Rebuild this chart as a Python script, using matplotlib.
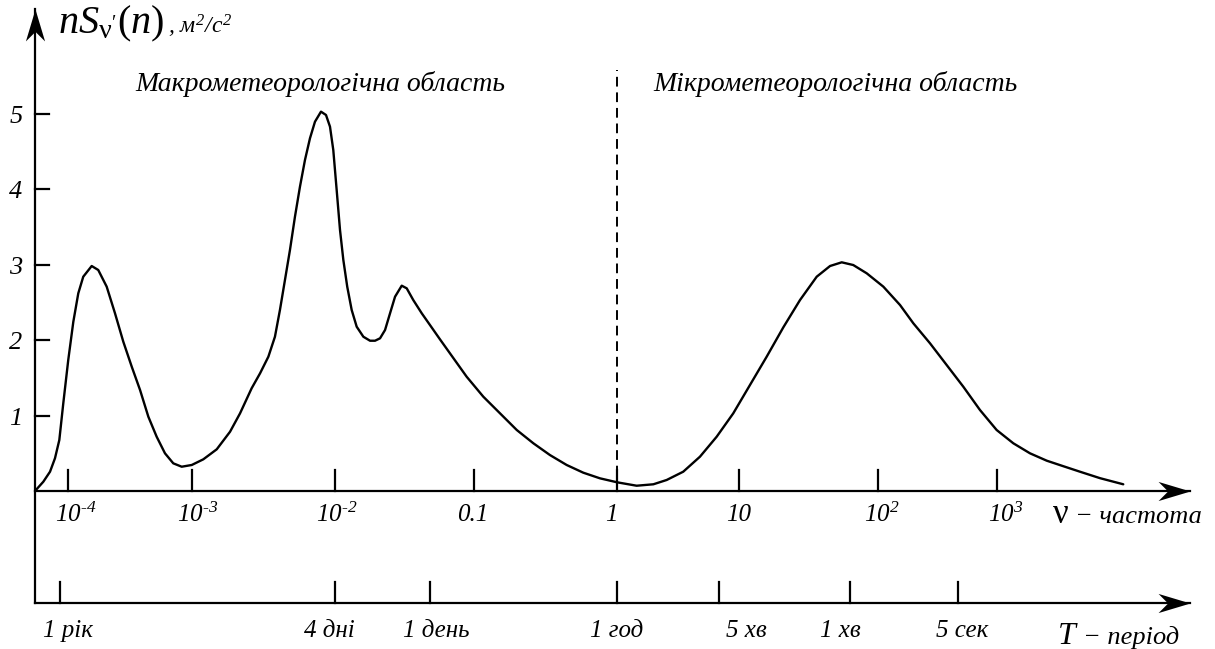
import numpy as np
import matplotlib
matplotlib.use("Agg")
import matplotlib.pyplot as plt
from matplotlib.markers import MarkerStyle
from matplotlib.path import Path
from matplotlib.transforms import Affine2D

plt.rcParams['font.family'] = ['Liberation Serif', 'DejaVu Serif']
plt.rcParams['mathtext.fontset'] = 'custom'
plt.rcParams['mathtext.rm'] = 'Liberation Serif:italic'
plt.rcParams['mathtext.it'] = 'Liberation Serif:italic'
plt.rcParams['mathtext.sf'] = 'Liberation Serif'

# wind speed spectrum, frequency in cycles per hour (log10)
log_freq = [-4.266, -4.199, -4.145, -4.105, -4.070, -4.038, -3.998, -3.957, -3.917, -3.877,
            -3.809, -3.756, -3.688, -3.621, -3.554, -3.486, -3.419, -3.352, -3.285, -3.218,
            -3.151, -3.083, -3.002, -2.921, -2.827, -2.734, -2.664, -2.583, -2.524, -2.466,
            -2.420, -2.385, -2.350, -2.315, -2.280, -2.245, -2.210, -2.175, -2.140, -2.098,
            -2.063, -2.035, -2.012, -1.988, -1.964, -1.940, -1.912, -1.880, -1.844, -1.796,
            -1.748, -1.712, -1.676, -1.640, -1.604, -1.568, -1.520, -1.484, -1.437, -1.376,
            -1.317, -1.245, -1.173, -1.053, -0.935, -0.818, -0.701, -0.585, -0.469, -0.352,
            -0.236, -0.119, 0.002, 0.161, 0.298, 0.407, 0.543, 0.680, 0.817, 0.953,
            1.079, 1.199, 1.319, 1.439, 1.559, 1.655, 1.739, 1.822, 1.919, 2.045,
            2.185, 2.297, 2.437, 2.577, 2.717, 2.857, 2.997, 3.137, 3.277, 3.418,
            3.555, 3.697, 3.866, 4.061]
spectrum = [0.000, 0.123, 0.256, 0.434, 0.676, 1.163, 1.737, 2.245, 2.622, 2.842,
            2.984, 2.931, 2.710, 2.357, 1.980, 1.649, 1.340, 0.985, 0.720, 0.500,
            0.367, 0.322, 0.345, 0.420, 0.553, 0.786, 1.030, 1.362, 1.561, 1.781,
            2.046, 2.401, 2.798, 3.196, 3.638, 4.036, 4.390, 4.678, 4.898, 5.031,
            4.987, 4.832, 4.523, 3.992, 3.462, 3.064, 2.710, 2.401, 2.179, 2.046,
            1.993, 1.993, 2.025, 2.135, 2.357, 2.577, 2.723, 2.688, 2.533, 2.357,
            2.202, 2.012, 1.826, 1.516, 1.251, 1.030, 0.809, 0.633, 0.477, 0.345,
            0.243, 0.168, 0.115, 0.070, 0.089, 0.146, 0.256, 0.455, 0.720, 1.030,
            1.406, 1.781, 2.171, 2.533, 2.842, 2.984, 3.033, 2.997, 2.887, 2.710,
            2.467, 2.224, 1.959, 1.671, 1.383, 1.074, 0.809, 0.633, 0.500, 0.402,
            0.330, 0.256, 0.170, 0.089]

freq_ticks = [-4, -3, -2, -1, 0, 1, 2, 3]
freq_labels = ['$10^{‐4}$', '$10^{‐3}$', '$10^{‐2}$', '0.1', '1', '10',
               '$10^{2}$', '$10^{3}$']
freq_label_at = [-3.94, -2.96, -1.99, -1.01, -0.04, 1.0, 2.03, 3.07]

period_ticks = [-4.065, -2.0, -1.32, 0.0, 0.836, 1.80, 2.67]
period_labels = ['1 рік', '4 дні', '1 день', '1 год', '5 хв', '1 хв', '5 сек']
period_label_at = [-4.0, -2.04, -1.27, 0.0, 1.05, 1.73, 2.71]

y_ticks = [1, 2, 3, 4, 5]

# the decades on the printed axis are not evenly spaced, so the x scale
# is piecewise linear in log10(f) between them
W, H = 1215, 649
decade_log = [-4, -3, -2, -1, 0, 1, 2, 3]
decade_pos = [68, 192, 335, 474, 617, 739, 878, 997]
knot_log = np.r_[-12, decade_log, 12]
knot_pos = np.r_[68 - 8 * 124, decade_pos, 997 + 9 * 119]


def fwd(f):
    lg = np.log10(np.clip(np.asarray(f, float), 1e-12, 1e12))
    return np.interp(lg, knot_log, knot_pos)


def inv(p):
    return 10 ** np.interp(p, knot_pos, knot_log)


Y0, UNIT = 491, 75.4   # zero line and one m2/s2, in pixels

fig = plt.figure(figsize=(W / 100, H / 100), dpi=100)
ax = fig.add_axes([0, 0, 1, 1])
ax.set_axis_off()
ax.set_xscale('function', functions=(fwd, inv))
ax.set_xlim(inv(0), inv(W))
ax.set_ylim((Y0 - H) / UNIT, Y0 / UNIT)

x0 = inv(35)
x_end = inv(1190)
y_period = -(603 - Y0) / UNIT
y_top = (Y0 - 9) / UNIT
tick_h = 21 / UNIT
lw = 1.6

# stealth arrow heads
head = Path([(0, 0), (-1, 0.3), (-0.7, 0), (-1, -0.3), (0, 0)],
            [Path.MOVETO, Path.LINETO, Path.LINETO, Path.LINETO, Path.CLOSEPOLY])
head_right = MarkerStyle(head)
head_up = MarkerStyle(head, transform=Affine2D().rotate_deg(90))

# axes
ax.plot([x0, x_end], [0, 0], color='k', lw=lw)
ax.plot([x0, x_end], [y_period, y_period], color='k', lw=lw)
ax.plot([x0, x0], [y_period, y_top], color='k', lw=lw)
ax.plot([x_end, x_end], [0, y_period], ls='none', marker=head_right, ms=46,
        color='k', mew=0)
ax.plot([x0], [y_top], ls='none', marker=head_up, ms=46, color='k', mew=0)

for t in freq_ticks:
    ax.plot([10.0 ** t] * 2, [0, tick_h], color='k', lw=lw)
for t in period_ticks:
    ax.plot([10.0 ** t] * 2, [y_period, y_period + tick_h], color='k', lw=lw)
for v in y_ticks:
    ax.plot([x0, inv(49)], [v, v], color='k', lw=lw)
    ax.text(inv(16), v - 0.04, str(v), ha='center', va='center',
            fontsize=19, style='italic')

for pos, lab in zip(freq_label_at, freq_labels):
    ax.text(10.0 ** pos, -(515 - Y0) / UNIT, lab, ha='center', va='center',
            fontsize=18, style='italic')
for pos, lab in zip(period_label_at, period_labels):
    ax.text(10.0 ** pos, -(631 - Y0) / UNIT, lab, ha='center', va='center',
            fontsize=18, style='italic')

# spectrum curve and the boundary between the two regions
ax.plot(10.0 ** np.array(log_freq), spectrum, color='k', lw=1.7,
        solid_joinstyle='round', solid_capstyle='round')
ax.plot([1, 1], [0, (Y0 - 70) / UNIT], color='k', lw=1.4, ls=(0, (5, 3)))

ax.text(inv(320), (Y0 - 84) / UNIT, 'Макрометеорологічна область',
        ha='center', va='center', fontsize=20, style='italic')
ax.text(inv(835), (Y0 - 84) / UNIT, 'Мікрометеорологічна область',
        ha='center', va='center', fontsize=20, style='italic')

# axis titles
fig.text(58 / W, 1 - 33 / H, r"$nS_{\mathsf{\nu'}}\mathsf{(}n\mathsf{)}$",
         fontsize=29, ha='left', va='baseline')
fig.text(168 / W, 1 - 33 / H, ', $м^{2}/с^{2}$', fontsize=17, style='italic',
         ha='left', va='baseline')
fig.text(1053 / W, 1 - 523 / H, 'ν', fontsize=25, ha='left', va='baseline')
fig.text(1075 / W, 1 - 523 / H, '− частота', fontsize=19, style='italic',
         ha='left', va='baseline')
fig.text(1058 / W, 1 - 644 / H, 'T', fontsize=23, style='italic',
         ha='left', va='baseline')
fig.text(1083 / W, 1 - 644 / H, '− період', fontsize=19, style='italic',
         ha='left', va='baseline')

fig.savefig('out.png', dpi=100)
